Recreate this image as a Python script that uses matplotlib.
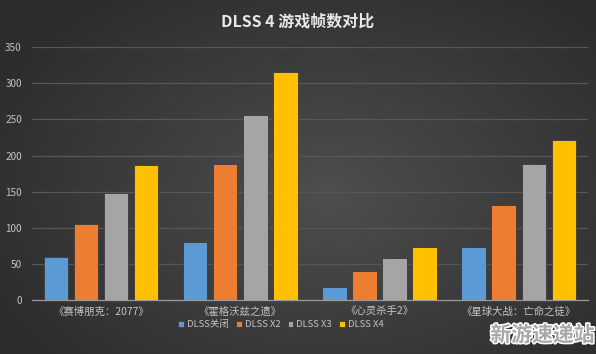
import numpy as np
import matplotlib.pyplot as plt
import matplotlib.patheffects as pe
from matplotlib.colors import LinearSegmentedColormap

plt.rcParams['font.family'] = ['Noto Sans CJK SC', 'DejaVu Sans']

games = ["《赛博朋克：2077》", "《霍格沃兹之遗》", "《心灵杀手2》", "《星球大战：亡命之徒》"]
series = ["DLSS关闭", "DLSS X2", "DLSS X3", "DLSS X4"]
dlss_off = [60, 81, 18, 73]
dlss_x2 = [105, 189, 40, 131]
dlss_x3 = [148, 256, 58, 189]
dlss_x4 = [187, 315, 73, 222]
colors = ["#5B9BD5", "#ED7D31", "#A5A5A5", "#FFC000"]
yticks = [0, 50, 100, 150, 200, 250, 300, 350]

fig = plt.figure(figsize=(5.96, 3.54), dpi=100)

# dark radial-ish background
bg = fig.add_axes([0, 0, 1, 1])
yy, xx = np.mgrid[0:1:200j, 0:1:300j]
r = np.sqrt(((xx - 0.55) / 0.8) ** 2 + ((yy - 0.55) / 0.9) ** 2)
bg_cmap = LinearSegmentedColormap.from_list("bg", ["#4e4e4e", "#2c2c2c"])
bg.imshow(r, cmap=bg_cmap, aspect="auto", extent=[0, 1, 0, 1], vmin=0, vmax=0.8)
bg.axis("off")

ax = fig.add_axes([0.053, 0.152, 0.934, 0.715])
ax.patch.set_alpha(0)

x = np.arange(len(games))
w = 0.175
pitch = 0.216
values = [dlss_off, dlss_x2, dlss_x3, dlss_x4]
for i, (vals, c, name) in enumerate(zip(values, colors, series)):
    ax.bar(x + (i - 1.5) * pitch, vals, width=w, color=c, edgecolor="#3a3a3a",
           linewidth=0.6, label=name, zorder=3)

ax.set_xlim(-0.5, 3.5)
ax.set_ylim(0, 350)
ax.set_yticks(yticks)
ax.set_xticks(x)
ax.set_xticklabels(games)
ax.grid(axis="y", color="#575757", linewidth=0.9, zorder=0)
for s in ["top", "right", "left"]:
    ax.spines[s].set_visible(False)
ax.spines["bottom"].set_color("#9a9a9a")
ax.spines["bottom"].set_linewidth(0.9)
ax.tick_params(axis="both", length=0, colors="#c4c4c4", labelsize=7.2)
ax.tick_params(axis="x", labelsize=7.5, pad=5)
ax.tick_params(axis="y", pad=7)

fig.text(0.5, 0.94, "DLSS 4 游戏帧数对比", ha="center", va="center",
         fontsize=11.5, fontweight="bold", color="#e8e8e8")

leg = ax.legend(loc="center", bbox_to_anchor=(0.448, -0.095), ncol=4, frameon=False,
                fontsize=6.8, handlelength=0.6, handleheight=0.6,
                handletextpad=0.3, columnspacing=0.8, labelcolor="#c4c4c4")

fig.text(0.998, 0.054, "新游速递站", ha="right", va="center", fontsize=15,
         fontweight="bold", color="#a8a8a8",
         path_effects=[pe.withStroke(linewidth=2.2, foreground="white")])

fig.savefig("out.png", dpi=100)
